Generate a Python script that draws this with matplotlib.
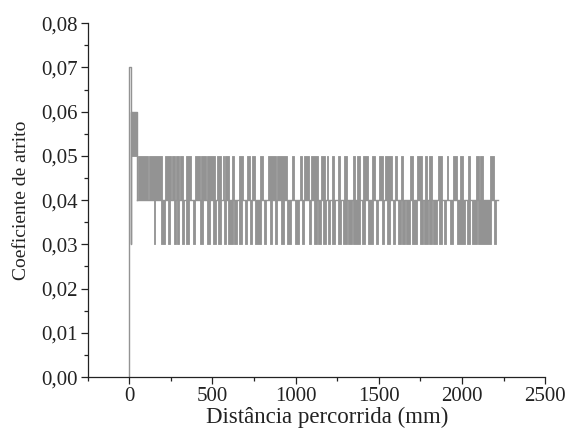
import numpy as np
import matplotlib
matplotlib.use("Agg")
import matplotlib.pyplot as plt
from matplotlib.ticker import MultipleLocator, FuncFormatter

# inicio do ensaio (pico inicial), mm / coeficiente
start_x = [0, 0, 8, 8, 12, 12, 44, 44]
start_y = [0.0, 0.07, 0.07, 0.03, 0.03, 0.06, 0.06, 0.04]
peak_bursts = [(12, 44)]          # oscila entre 0.05 e 0.06

base_level = 0.04
base_start = 44
end_x = 2215

# trechos onde o sinal sobe para 0.05 (mm)
upper_bursts = [
    (53, 113), (120, 200), (214, 250), (258, 274), (280, 300), (304, 324),
    (344, 374), (394, 424), (434, 461), (468, 515), (525, 549), (561, 569),
    (577, 601), (619, 629), (659, 685), (709, 725), (741, 757), (789, 805),
    (835, 881), (889, 946), (980, 992), (1026, 1036), (1052, 1080),
    (1092, 1136), (1152, 1176), (1186, 1196), (1216, 1232), (1252, 1266),
    (1292, 1306), (1342, 1356), (1366, 1386), (1406, 1436), (1457, 1477),
    (1503, 1527), (1537, 1577), (1597, 1607), (1631, 1647), (1687, 1707),
    (1727, 1757), (1777, 1787), (1803, 1817), (1857, 1877), (1907, 1917),
    (1944, 1967), (1988, 2008), (2038, 2048), (2082, 2102), (2108, 2128),
    (2168, 2194),
]

# trechos onde o sinal cai para 0.03 (mm)
lower_bursts = [
    (148, 158), (190, 214), (234, 244), (270, 284), (290, 298), (320, 330),
    (344, 358), (384, 394), (424, 444), (465, 485), (505, 521), (535, 549),
    (569, 581), (595, 621), (631, 645), (661, 675), (695, 709), (725, 737),
    (755, 795), (811, 825), (845, 857), (875, 889), (915, 929), (946, 972),
    (996, 1020), (1040, 1052), (1080, 1092), (1112, 1126), (1136, 1152),
    (1166, 1180), (1192, 1206), (1220, 1236), (1256, 1272), (1286, 1306),
    (1316, 1336), (1346, 1386), (1400, 1416), (1433, 1463), (1483, 1497),
    (1517, 1531), (1551, 1567), (1587, 1597), (1617, 1631), (1637, 1657),
    (1663, 1687), (1697, 1727), (1747, 1763), (1771, 1797), (1803, 1817),
    (1827, 1847), (1863, 1877), (1892, 1904), (1928, 1948), (1972, 2018),
    (2028, 2048), (2062, 2088), (2098, 2174), (2194, 2202),
]

GRAY = "#939393"


def step_arrays(bursts, low, high):
    xs, ys = [], []
    for s, e in bursts:
        xs += [s, e]
        ys += [high, low]
    return np.array(xs, float), np.array(ys, float)


def main():
    plt.rcParams["font.family"] = ["Liberation Serif", "DejaVu Serif"]
    fig = plt.figure(figsize=(5.65, 4.29), dpi=100)
    ax = fig.add_axes([0.155, 0.121, 0.81, 0.825])

    # bandas de oscilacao
    for bursts, low, high in [(upper_bursts, 0.04, 0.05),
                              (lower_bursts, 0.04, 0.03),
                              (peak_bursts, 0.05, 0.06)]:
        xs, ys = step_arrays(bursts, low, high)
        ax.fill_between(xs, low, ys, step="post", facecolor=GRAY,
                        edgecolor=GRAY, linewidth=0.6)

    ax.plot(start_x, start_y, color=GRAY, lw=1.0)
    ax.plot([base_start, end_x], [base_level, base_level], color=GRAY, lw=1.0)

    ax.set_xlim(-250, 2500)
    ax.set_ylim(0, 0.08)
    ax.xaxis.set_major_locator(MultipleLocator(500))
    ax.xaxis.set_minor_locator(MultipleLocator(250))
    ax.yaxis.set_major_locator(MultipleLocator(0.01))
    ax.yaxis.set_minor_locator(MultipleLocator(0.005))
    ax.yaxis.set_major_formatter(
        FuncFormatter(lambda v, p: f"{v:.2f}".replace(".", ",")))

    for s in ["top", "right"]:
        ax.spines[s].set_visible(False)
    for s in ["left", "bottom"]:
        ax.spines[s].set_linewidth(0.9)
        ax.spines[s].set_color("#222222")
    ax.tick_params(which="major", direction="out", length=5, width=0.9,
                   labelsize=15, colors="#222222", pad=2)
    ax.tick_params(which="minor", direction="out", length=3, width=0.9,
                   colors="#222222")

    ax.set_xlabel("Distância percorrida (mm)", fontsize=16.5, color="#222222")
    ax.xaxis.set_label_coords(0.523, -0.085)
    ax.set_ylabel("Coeficiente de atrito", fontsize=14, labelpad=8,
                  color="#222222")

    fig.savefig("out.png", dpi=100)


if __name__ == "__main__":
    main()
